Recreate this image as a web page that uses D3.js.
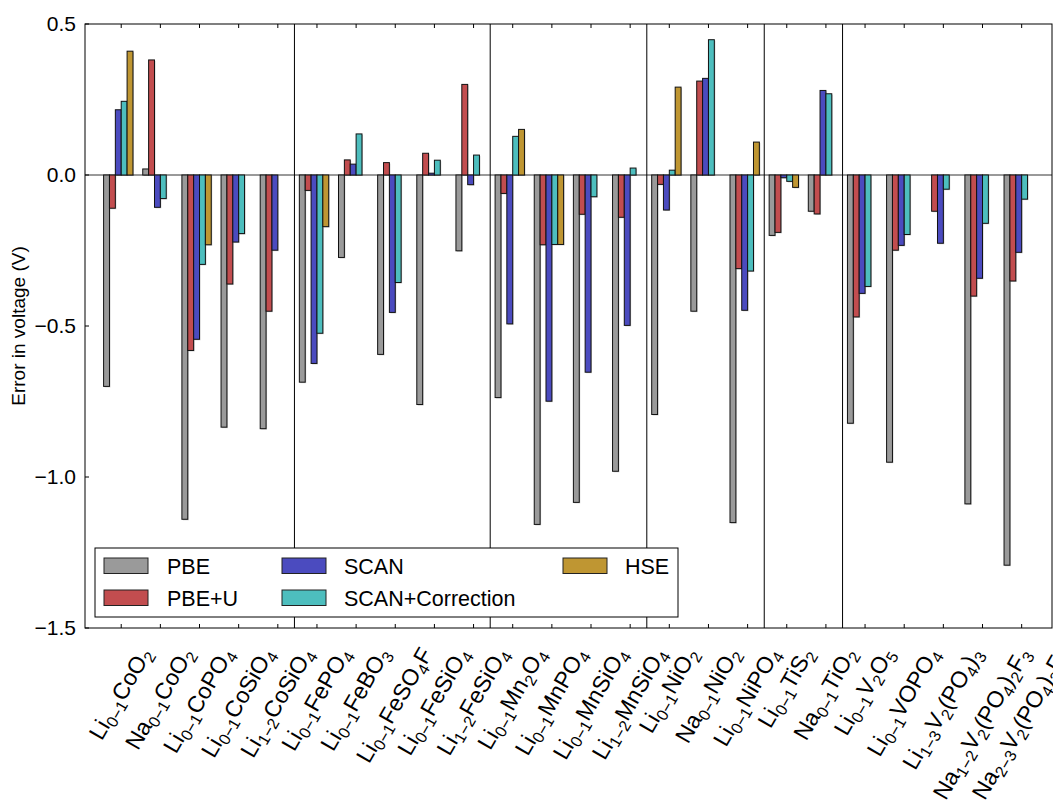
<!DOCTYPE html>
<html>
<head>
<meta charset="utf-8">
<script src="https://cdn.jsdelivr.net/npm/d3@7"></script>
<style>
  body { margin: 0; background: #fff; }
  svg text { font-family: "Liberation Sans", Arial, sans-serif; fill: #000; }
</style>
</head>
<body>
<svg id="chart" width="1053" height="803"></svg>
<script>
// materials (underscore marks a subscript)
var categories = [
  "Li_{0−1}CoO_2", "Na_{0−1}CoO_2", "Li_{0−1}CoPO_4", "Li_{0−1}CoSiO_4", "Li_{1−2}CoSiO_4",
  "Li_{0−1}FePO_4", "Li_{0−1}FeBO_3", "Li_{0−1}FeSO_4F", "Li_{0−1}FeSiO_4", "Li_{1−2}FeSiO_4",
  "Li_{0−1}Mn_2O_4", "Li_{0−1}MnPO_4", "Li_{0−1}MnSiO_4", "Li_{1−2}MnSiO_4",
  "Li_{0−1}NiO_2", "Na_{0−1}NiO_2", "Li_{0−1}NiPO_4",
  "Li_{0−1}TiS_2", "Na_{0−1}TiO_2",
  "Li_{0−1}V_2O_5", "Li_{0−1}VOPO_4", "Li_{1−3}V_2(PO_4)_3", "Na_{1−2}V_2(PO_4)_2F_3", "Na_{2−3}V_2(PO_4)_2F_3"
];

// error in voltage (V), null = not computed
var pbe = [-0.70, 0.02, -1.14, -0.835, -0.84, -0.686, -0.273, -0.594, -0.76, -0.251,
  -0.737, -1.157, -1.084, -0.981, -0.793, -0.451, -1.151, -0.20, -0.12,
  -0.822, -0.951, null, -1.089, -1.292];
var pbeU = [-0.11, 0.381, -0.581, -0.361, -0.451, -0.051, 0.05, 0.041, 0.072, 0.30,
  -0.061, -0.231, -0.13, -0.14, -0.031, 0.311, -0.31, -0.19, -0.129,
  -0.47, -0.249, -0.12, -0.401, -0.351];
var scan = [0.216, -0.107, -0.544, -0.222, -0.249, -0.624, 0.036, -0.455, 0.006, -0.032,
  -0.493, -0.749, -0.653, -0.498, -0.116, 0.32, -0.448, -0.009, 0.28,
  -0.392, -0.233, -0.226, -0.342, -0.256];
var scanCorr = [0.244, -0.078, -0.296, -0.194, null, -0.524, 0.136, -0.356, 0.049, 0.066,
  0.128, -0.23, -0.072, 0.023, 0.016, 0.448, -0.318, -0.021, 0.269,
  -0.369, -0.197, -0.047, -0.16, -0.08];
var hse = [0.41, null, -0.231, null, null, -0.171, null, null, null, null,
  0.151, -0.23, null, null, 0.291, null, 0.109, -0.041, null,
  null, null, null, null, null];

var seriesNames = ["PBE", "PBE+U", "SCAN", "SCAN+Correction", "HSE"];
var seriesColors = ["#9a9a9a", "#c24d4f", "#4b4bbf", "#4dbebe", "#bf9632"];
var seriesValues = [pbe, pbeU, scan, scanCorr, hse];

// chemistry family boundaries (after these indices)
var groupEnds = [4, 9, 13, 16, 18];

var yTicks = [0.5, 0.0, -0.5, -1.0, -1.5];

var svg = d3.select("#chart");
var LEFT = 85, RIGHT = 1052, TOP = 24, BOTTOM = 628;
var BAR_W = 0.15;

var x = d3.scaleLinear().domain([-0.85, 23.85]).range([LEFT, RIGHT]);
var y = d3.scaleLinear().domain([-1.5, 0.5]).range([BOTTOM, TOP]);

// separators between families
svg.append("g").selectAll("line")
  .data(groupEnds)
  .enter().append("line")
  .attr("x1", function(d) { return x(d + 0.5); })
  .attr("x2", function(d) { return x(d + 0.5); })
  .attr("y1", TOP).attr("y2", BOTTOM)
  .attr("stroke", "#000").attr("stroke-width", 1);

// zero line
svg.append("line")
  .attr("x1", LEFT).attr("x2", RIGHT)
  .attr("y1", y(0)).attr("y2", y(0))
  .attr("stroke", "#000").attr("stroke-width", 0.8);

// bars
var barData = [];
seriesValues.forEach(function(vals, k) {
  vals.forEach(function(v, i) {
    if (v === null) return;
    barData.push({i: i, k: k, v: v});
  });
});

var bw = x(BAR_W) - x(0);
var bars = svg.append("g").selectAll("g.bar")
  .data(barData)
  .enter().append("g")
  .attr("class", "bar");

// soft shadow
bars.append("rect")
  .attr("x", function(d) { return x(d.i + (d.k - 2.5) * BAR_W) + 1; })
  .attr("y", function(d) { return Math.min(y(d.v), y(0)) + 1; })
  .attr("width", bw)
  .attr("height", function(d) { return Math.abs(y(d.v) - y(0)); })
  .attr("fill", "#000").attr("opacity", 0.2);

bars.append("rect")
  .attr("x", function(d) { return x(d.i + (d.k - 2.5) * BAR_W); })
  .attr("y", function(d) { return Math.min(y(d.v), y(0)); })
  .attr("width", bw)
  .attr("height", function(d) { return Math.abs(y(d.v) - y(0)); })
  .attr("fill", function(d) { return seriesColors[d.k]; })
  .attr("stroke", "#111").attr("stroke-width", 1);

// frame
svg.append("rect")
  .attr("x", LEFT).attr("y", TOP)
  .attr("width", RIGHT - LEFT).attr("height", BOTTOM - TOP)
  .attr("fill", "none").attr("stroke", "#000").attr("stroke-width", 1);

// x ticks (inward, top and bottom)
var tickXs = categories.map(function(c, i) { return x(i + BAR_W / 2); });
svg.append("g").selectAll("line")
  .data(tickXs)
  .enter().append("line")
  .attr("x1", function(d) { return d; }).attr("x2", function(d) { return d; })
  .attr("y1", BOTTOM).attr("y2", BOTTOM - 4)
  .attr("stroke", "#000");
svg.append("g").selectAll("line")
  .data(tickXs)
  .enter().append("line")
  .attr("x1", function(d) { return d; }).attr("x2", function(d) { return d; })
  .attr("y1", TOP).attr("y2", TOP + 4)
  .attr("stroke", "#000");

// y ticks and labels
svg.append("g").selectAll("line")
  .data(yTicks)
  .enter().append("line")
  .attr("x1", LEFT).attr("x2", LEFT + 4)
  .attr("y1", function(d) { return y(d); }).attr("y2", function(d) { return y(d); })
  .attr("stroke", "#000");
svg.append("g").selectAll("text")
  .data(yTicks)
  .enter().append("text")
  .attr("x", LEFT - 9)
  .attr("y", function(d) { return y(d); })
  .attr("dy", "0.35em")
  .attr("text-anchor", "end")
  .style("font-size", "21px")
  .text(function(d) { return d3.format(".1f")(d).replace("-", "−"); });

svg.append("text")
  .attr("transform", "translate(25," + ((TOP + BOTTOM) / 2) + ") rotate(-90)")
  .attr("text-anchor", "middle")
  .style("font-size", "19px")
  .text("Error in voltage (V)");

// rotated category labels with subscripts
var LABEL_FS = 23;
function parseFormula(s) {
  var parts = [], re = /_\{([^}]*)\}|_(.)|([^_]+)/g, m;
  while ((m = re.exec(s)) !== null) {
    if (m[1] !== undefined) parts.push({t: m[1], sub: true});
    else if (m[2] !== undefined) parts.push({t: m[2], sub: true});
    else parts.push({t: m[3], sub: false});
  }
  return parts;
}

var labels = svg.append("g").selectAll("g.xlabel")
  .data(categories)
  .enter().append("g")
  .attr("class", "xlabel");

var labelTexts = labels.append("text")
  .style("font-size", LABEL_FS + "px");
labelTexts.each(function(d) {
  var t = d3.select(this);
  parseFormula(d).forEach(function(p) {
    var ts = t.append("tspan").text(p.t);
    if (p.sub) {
      ts.style("font-size", (LABEL_FS * 0.7) + "px")
        .attr("baseline-shift", (-LABEL_FS * 0.2) + "px");
    }
  });
});

// rotate 60 deg, centre the rotated box on the tick (like ha='center')
var sin60 = Math.sin(Math.PI / 3), cos60 = 0.5;
labels.each(function(d, i) {
  var b = d3.select(this).select("text").node().getBBox();
  var bcx = b.x + b.width / 2, bcy = b.y + b.height / 2;
  var rotH = b.width * sin60 + b.height * cos60;
  var cy = BOTTOM + 15 + rotH / 2;
  d3.select(this).select("text")
    .attr("transform", "translate(" + tickXs[i] + "," + cy + ") rotate(-60) translate(" + (-bcx) + "," + (-bcy) + ")");
});

// legend
var legend = svg.append("g");
legend.append("rect")
  .attr("x", 95).attr("y", 548)
  .attr("width", 583).attr("height", 69)
  .attr("fill", "#fff").attr("stroke", "#000").attr("stroke-width", 1);

var legendPos = [
  {px: 104, tx: 167, row: 0},
  {px: 104, tx: 167, row: 1},
  {px: 282, tx: 344, row: 0},
  {px: 282, tx: 344, row: 1},
  {px: 563, tx: 625, row: 0}
];
var legendItems = legend.selectAll("g")
  .data(seriesNames)
  .enter().append("g")
  .attr("transform", function(d, k) {
    return "translate(0," + (legendPos[k].row * 32) + ")";
  });
legendItems.append("rect")
  .attr("x", function(d, k) { return legendPos[k].px; })
  .attr("y", 558)
  .attr("width", 44).attr("height", 15.5)
  .attr("fill", function(d, k) { return seriesColors[k]; })
  .attr("stroke", "#222").attr("stroke-width", 1);
legendItems.append("text")
  .attr("x", function(d, k) { return legendPos[k].tx; })
  .attr("y", 573.5)
  .style("font-size", "21.5px")
  .text(function(d) { return d; });
</script>
</body>
</html>
